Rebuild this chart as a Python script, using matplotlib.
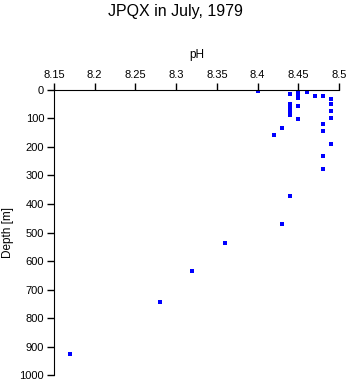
import matplotlib
matplotlib.use("Agg")
import matplotlib.pyplot as plt

# pH readings and sample depths (m)
ph = [8.40, 8.45, 8.45, 8.45, 8.45, 8.46, 8.46, 8.44, 8.47, 8.48, 8.49,
      8.49, 8.44, 8.45, 8.44, 8.49, 8.44, 8.44, 8.49, 8.45, 8.48, 8.43,
      8.48, 8.42, 8.49, 8.48, 8.48, 8.44, 8.43, 8.36, 8.32, 8.28, 8.17]
depth = [3, 0, 10, 20, 30, 0, 8, 15, 21, 21, 32,
         50, 50, 58, 64, 74, 74, 88, 99, 103, 120, 135,
         143, 159, 189, 233, 278, 372, 470, 536, 636, 743, 926]

plt.rcParams['font.family'] = ['Liberation Sans', 'DejaVu Sans']

fig = plt.figure(figsize=(3.5, 3.84), dpi=100)
ax = fig.add_axes([0.154, 0.023, 0.815, 0.743])

ax.plot(ph, depth, 's', color='#0000ff', markersize=2.6, markeredgewidth=0)

ax.set_xlim(8.15, 8.5)
ax.set_ylim(1000, 0)
ax.set_xticks([8.15, 8.2, 8.25, 8.3, 8.35, 8.4, 8.45, 8.5])
ax.set_xticklabels(['8.15', '8.2', '8.25', '8.3', '8.35', '8.4', '8.45', '8.5'])
ax.set_yticks(range(0, 1001, 100))
ax.xaxis.tick_top()
ax.xaxis.set_label_position('top')
ax.tick_params(direction='out', length=5, width=1, labelsize=8, pad=2)
ax.spines['right'].set_visible(False)
ax.spines['bottom'].set_visible(False)

ax.set_xlabel('pH', fontsize=8.5, labelpad=9)
ax.set_ylabel('Depth [m]', fontsize=8.5, labelpad=4)
fig.suptitle('JPQX in July, 1979', fontsize=11.5, y=0.99)

fig.savefig('out.png', dpi=100)
